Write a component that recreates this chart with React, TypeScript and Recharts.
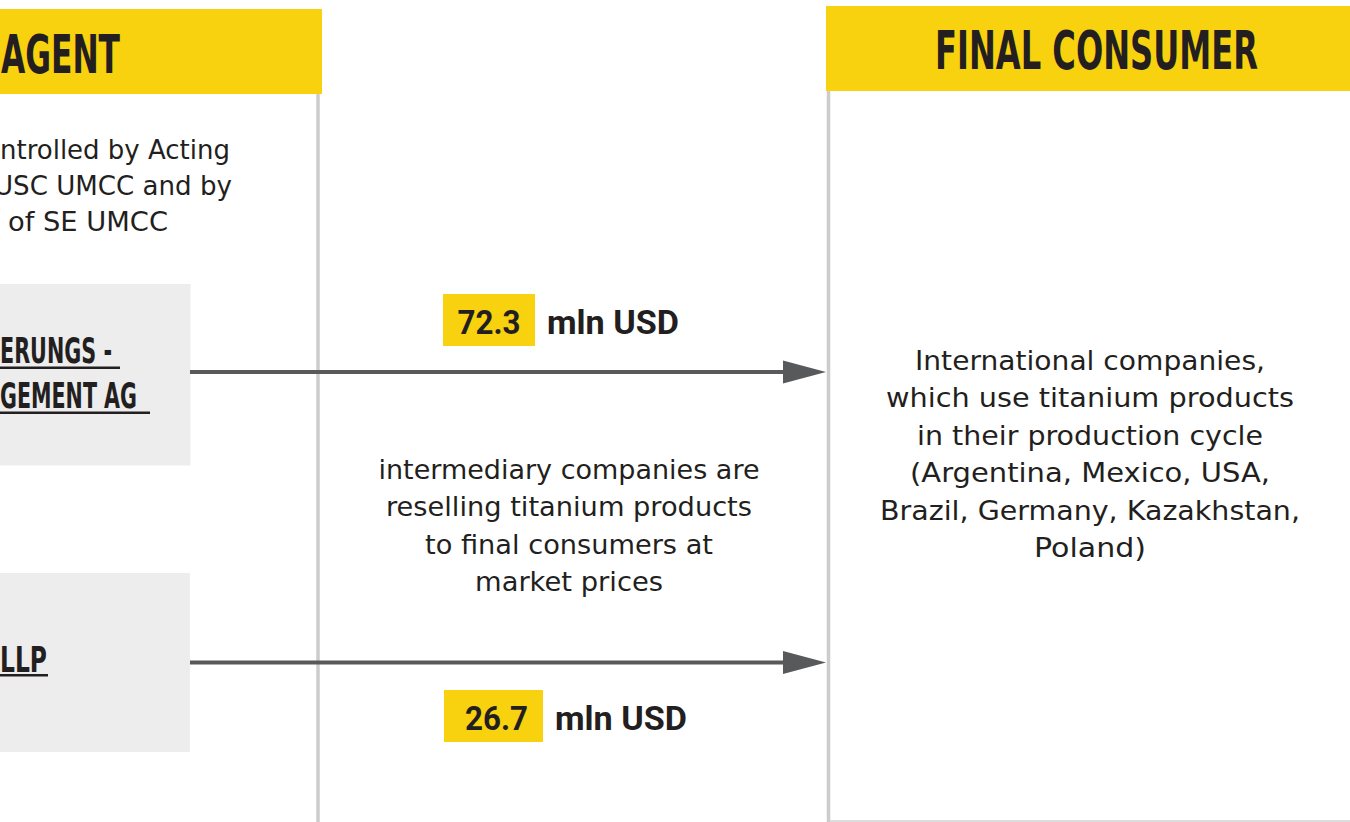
import { ComposedChart, ReferenceArea, ReferenceLine, Scatter, XAxis, YAxis } from 'recharts';

// values
const COLUMN_TITLES = ['AGENT', 'FINAL CONSUMER'];
const AGENT_NOTE = ['ntrolled by Acting', 'USC UMCC and by', 'of SE UMCC'];
const AGENT_NAMES = [['ERUNGS -', 'GEMENT AG'], ['LLP']];
const FLOW_VALUES = [72.3, 26.7];
const FLOW_UNIT = 'mln USD';
const INTERMEDIARY_NOTE = [
  'intermediary companies are',
  'reselling titanium products',
  'to final consumers at',
  'market prices',
];
const CONSUMER_NOTE = [
  'International companies,',
  'which use titanium products',
  'in their production cycle',
  '(Argentina, Mexico, USA,',
  'Brazil, Germany, Kazakhstan,',
  'Poland)',
];

const W = 1350;
const H = 822;

const YELLOW = '#f8d10f';
const BOX_GRAY = '#ededed';
const DIVIDER = '#cccccc';
const ARROW = '#58595b';
const INK = '#231f20';

const BODY_FONT = '"DejaVu Sans", "Noto Sans", sans-serif';
const HEAD_FONT = '"Liberation Sans Narrow", "DejaVu Sans Condensed", Roboto, sans-serif';
const BOLD_FONT = 'Roboto, "Noto Sans", sans-serif';

// layout (pixel space of the chart)
const ROW_Y = [372, 662.5];
const BADGE_CENTER = [
  { x: 489, y: 320 },
  { x: 493.5, y: 716 },
];
const BADGE_W = [92, 99];
const BADGE_TEXT_SHIFT = [0, 3];

type Block = {
  lines: string[];
  widths?: number[];
  anchor: 'start' | 'middle' | 'end';
  font: string;
  size: number;
  weight?: number;
  lineHeight: number;
};

function textShape(block: Block) {
  return (props: any) => {
    const { x, y, width } = props;
    const ax = block.anchor === 'start' ? x : block.anchor === 'end' ? x + width : x + width / 2;
    return (
      <g>
        {block.lines.map((line, i) => (
          <text
            key={i}
            x={ax}
            y={y + (i + 1) * block.lineHeight}
            textAnchor={block.anchor}
            fontFamily={block.font}
            fontSize={block.size}
            fontWeight={block.weight ?? 400}
            fill={INK}
            textLength={block.widths?.[i]}
            lengthAdjust="spacingAndGlyphs"
          >
            {line}
          </text>
        ))}
      </g>
    );
  };
}

function arrowHead(props: any) {
  const { x, y, width, height } = props;
  return <polygon points={`${x},${y} ${x + width},${y + height / 2} ${x},${y + height}`} fill={ARROW} />;
}

function underline(props: any) {
  const { x, y, width, height } = props;
  return <rect x={x} y={y} width={width} height={height} fill={INK} />;
}

function FlowBadge(props: any) {
  const { cx, cy, payload } = props;
  const i = payload.idx;
  const w = BADGE_W[i];
  const left = cx - w / 2;
  return (
    <g>
      <rect x={left} y={cy - 26} width={w} height={52} fill={YELLOW} />
      <text
        x={cx + BADGE_TEXT_SHIFT[i]}
        y={cy + 14}
        textAnchor="middle"
        fontFamily={BOLD_FONT}
        fontSize={34}
        fontWeight={700}
        fill={INK}
        textLength={63}
        lengthAdjust="spacingAndGlyphs"
      >
        {payload.value.toFixed(1)}
      </text>
      <text
        x={left + w + 12}
        y={cy + 14}
        fontFamily={BOLD_FONT}
        fontSize={34}
        fontWeight={700}
        fill={INK}
        textLength={132}
        lengthAdjust="spacingAndGlyphs"
      >
        {FLOW_UNIT}
      </text>
    </g>
  );
}

const flowPoints = FLOW_VALUES.map((value, idx) => ({
  x: BADGE_CENTER[idx].x,
  y: BADGE_CENTER[idx].y,
  value,
  idx,
}));

export default function App() {
  return (
    <div style={{ position: 'absolute', left: 0, top: 0, background: '#fff' }}>
      <ComposedChart width={W} height={H} margin={{ top: 0, right: 0, bottom: 0, left: 0 }}>
        <XAxis type="number" dataKey="x" domain={[0, W]} allowDataOverflow hide />
        <YAxis type="number" dataKey="y" domain={[0, H]} allowDataOverflow reversed hide />

        {/* column headers */}
        <ReferenceArea x1={0} x2={322} y1={9} y2={94} fill={YELLOW} fillOpacity={1} ifOverflow="visible" />
        <ReferenceArea x1={826} x2={W} y1={6} y2={91} fill={YELLOW} fillOpacity={1} ifOverflow="visible" />
        <ReferenceArea
          x1={1}
          x2={120}
          y1={18.5}
          y2={72.5}
          fillOpacity={0}
          ifOverflow="visible"
          shape={textShape({
            lines: [COLUMN_TITLES[0]],
            widths: [119],
            anchor: 'start',
            font: HEAD_FONT,
            size: 54,
            weight: 700,
            lineHeight: 54,
          })}
        />
        <ReferenceArea
          x1={935}
          x2={1258}
          y1={15}
          y2={69}
          fillOpacity={0}
          ifOverflow="visible"
          shape={textShape({
            lines: [COLUMN_TITLES[1]],
            widths: [323],
            anchor: 'middle',
            font: HEAD_FONT,
            size: 54,
            weight: 700,
            lineHeight: 54,
          })}
        />

        {/* column dividers */}
        <ReferenceLine segment={[{ x: 318, y: 94 }, { x: 318, y: H }]} stroke={DIVIDER} strokeWidth={3.5} ifOverflow="visible" />
        <ReferenceLine segment={[{ x: 828.5, y: 91 }, { x: 828.5, y: H }]} stroke={DIVIDER} strokeWidth={3.5} ifOverflow="visible" />
        <ReferenceLine segment={[{ x: 830, y: 821 }, { x: W, y: 821 }]} stroke="#dddddd" strokeWidth={2} ifOverflow="visible" />

        {/* agent note (left side is cut off in the source) */}
        {AGENT_NOTE.map((line, i) => (
          <ReferenceArea
            key={line}
            x1={0}
            x2={[230, 232, 168][i]}
            y1={[159, 195, 231][i] - 36}
            y2={[159, 195, 231][i]}
            fillOpacity={0}
            ifOverflow="visible"
            shape={textShape({
              lines: [line],
              widths: [[230, 238, 160][i]],
              anchor: 'end',
              font: BODY_FONT,
              size: 27,
              lineHeight: 36,
            })}
          />
        ))}

        {/* agent boxes */}
        <ReferenceArea x1={0} x2={190.5} y1={284} y2={465.5} fill={BOX_GRAY} fillOpacity={1} ifOverflow="visible" />
        <ReferenceArea x1={0} x2={190} y1={573} y2={752} fill={BOX_GRAY} fillOpacity={1} ifOverflow="visible" />
        <ReferenceArea
          x1={0}
          x2={137}
          y1={318}
          y2={408}
          fillOpacity={0}
          ifOverflow="visible"
          shape={textShape({
            lines: AGENT_NAMES[0],
            widths: [112, 137],
            anchor: 'start',
            font: HEAD_FONT,
            size: 36,
            weight: 700,
            lineHeight: 45,
          })}
        />
        <ReferenceArea
          x1={0}
          x2={47}
          y1={627}
          y2={672}
          fillOpacity={0}
          ifOverflow="visible"
          shape={textShape({
            lines: AGENT_NAMES[1],
            widths: [47],
            anchor: 'start',
            font: HEAD_FONT,
            size: 36,
            weight: 700,
            lineHeight: 45,
          })}
        />
        <ReferenceArea x1={0} x2={120} y1={366.5} y2={369} ifOverflow="visible" shape={underline} />
        <ReferenceArea x1={0} x2={150} y1={411.5} y2={414} ifOverflow="visible" shape={underline} />
        <ReferenceArea x1={0} x2={48} y1={674} y2={676.5} ifOverflow="visible" shape={underline} />

        {/* flow arrows */}
        {ROW_Y.map((y) => (
          <ReferenceLine
            key={`line-${y}`}
            segment={[{ x: 190, y }, { x: 786, y }]}
            stroke={ARROW}
            strokeWidth={4}
            ifOverflow="visible"
          />
        ))}
        {ROW_Y.map((y) => (
          <ReferenceArea
            key={`head-${y}`}
            x1={783}
            x2={826}
            y1={y - 11.5}
            y2={y + 11.5}
            ifOverflow="visible"
            shape={arrowHead}
          />
        ))}

        {/* middle note */}
        <ReferenceArea
          x1={369}
          x2={769}
          y1={441}
          y2={591}
          fillOpacity={0}
          ifOverflow="visible"
          shape={textShape({
            lines: INTERMEDIARY_NOTE,
            widths: [381, 366, 288, 188],
            anchor: 'middle',
            font: BODY_FONT,
            size: 27,
            lineHeight: 37.5,
          })}
        />

        {/* consumer note */}
        <ReferenceArea
          x1={890}
          x2={1290}
          y1={332}
          y2={557}
          fillOpacity={0}
          ifOverflow="visible"
          shape={textShape({
            lines: CONSUMER_NOTE,
            widths: [350, 408, 346, 360, 420, 112],
            anchor: 'middle',
            font: BODY_FONT,
            size: 27,
            lineHeight: 37.5,
          })}
        />

        <Scatter data={flowPoints} shape={FlowBadge} isAnimationActive={false} legendType="none" />
      </ComposedChart>
    </div>
  );
}
